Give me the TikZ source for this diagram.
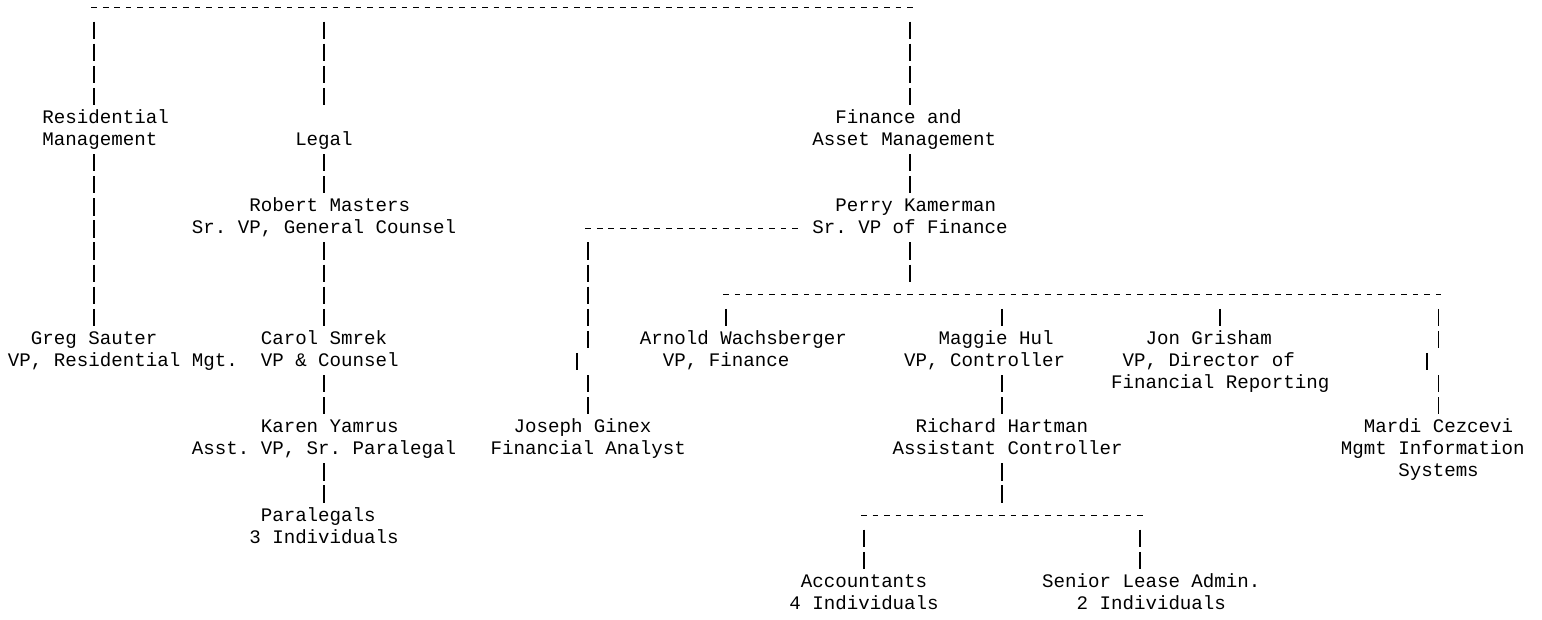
\documentclass[tikz,border=0pt]{standalone}
\usepackage{fontspec}
\newfontfamily\chartmono{Liberation Mono}
\tikzset{
  lbl/.style={font=\chartmono\fontsize{19.15pt}{22pt}\selectfont\frenchspacing,
              inner sep=0pt, outer sep=0pt, anchor=base west, text=black},
  hdash/.style={line width=1.5pt, dash pattern=on 5.6pt off 5.89pt, black},
  vpipe/.style={line width=1.7pt, dash pattern=on 17.2pt off 4.89pt, black}
}
% horizontal run of hyphens: name, first col, last col, line
\newcommand\hrun[4]{%
  \coordinate (#1a) at (#2+.26,#4-.2535);
  \coordinate (#1b) at (#3+.748,#4-.2535);
  \draw[hdash] (#1a) -- (#1b);}
% vertical run of bars: name, col, first line, last line
\newcommand\vrun[4]{%
  \coordinate (#1a) at (#2+.5,#3-.611);
  \coordinate (#1b) at (#2+.5,#4+.1675);
  \draw[vpipe] (#1a) -- (#1b);}
\begin{document}
\begin{tikzpicture}
\path[use as bounding box] (0pt,0pt) rectangle (1542pt,-619pt);
\begin{scope}[shift={(8pt,-13pt)}, x=11.49pt, y=-22.09pt]
% ---------- labels ----------
\node[lbl] (res1) at (3,5) {Residential};
\node[lbl] (res2) at (3,6) {Management};
\node[lbl] (legal) at (25,6) {Legal};
\node[lbl] (fin1) at (72,5) {Finance and};
\node[lbl] (fin2) at (70,6) {Asset Management};
\node[lbl] (rm1) at (21,9) {Robert Masters};
\node[lbl] (rm2) at (16,10) {Sr. VP, General Counsel};
\node[lbl] (pk1) at (72,9) {Perry Kamerman};
\node[lbl] (pk2) at (70,10) {Sr. VP of Finance};
\node[lbl] (gs1) at (2,15) {Greg Sauter};
\node[lbl] (gs2) at (0,16) {VP, Residential Mgt.};
\node[lbl] (cs1) at (22,15) {Carol Smrek};
\node[lbl] (cs2) at (22,16) {VP \& Counsel};
\node[lbl] (aw1) at (55,15) {Arnold Wachsberger};
\node[lbl] (aw2) at (57,16) {VP, Finance};
\node[lbl] (mh1) at (81,15) {Maggie Hul};
\node[lbl] (mh2) at (78,16) {VP, Controller};
\node[lbl] (jn1) at (99,15) {Jon Grisham};
\node[lbl] (jn2) at (97,16) {VP, Director of};
\node[lbl] (jn3) at (96,17) {Financial Reporting};
\node[lbl] (ky1) at (22,19) {Karen Yamrus};
\node[lbl] (ky2) at (16,20) {Asst. VP, Sr. Paralegal};
\node[lbl] (jg1) at (44,19) {Joseph Ginex};
\node[lbl] (jg2) at (42,20) {Financial Analyst};
\node[lbl] (rh1) at (79,19) {Richard Hartman};
\node[lbl] (rh2) at (77,20) {Assistant Controller};
\node[lbl] (mc1) at (118,19) {Mardi Cezcevi};
\node[lbl] (mc2) at (116,20) {Mgmt Information};
\node[lbl] (mc3) at (121,21) {Systems};
\node[lbl] (pl1) at (22,23) {Paralegals};
\node[lbl] (pl2) at (21,24) {3 Individuals};
\node[lbl] (ac1) at (69,26) {Accountants};
\node[lbl] (ac2) at (68,27) {4 Individuals};
\node[lbl] (sl1) at (90,26) {Senior Lease Admin.};
\node[lbl] (sl2) at (93,27) {2 Individuals};
% ---------- horizontal bars ----------
\hrun{top}{7}{78}{0}
\hrun{pkl}{50}{68}{10}
\hrun{pkr}{62}{124}{13}
\hrun{rhb}{74}{98}{23}
% ---------- vertical bars ----------
\vrun{ra}{7}{1}{4}
\vrun{rb}{7}{7}{14}
\vrun{la}{27}{1}{4}
\vrun{lb}{27}{7}{8}
\vrun{lc}{27}{11}{14}
\vrun{ld}{27}{17}{18}
\vrun{le}{27}{21}{22}
\vrun{fa}{78}{1}{4}
\vrun{fb}{78}{7}{8}
\vrun{fc}{78}{11}{12}
\vrun{ja}{50}{11}{15}
\vrun{jb}{49}{16}{16}
\vrun{jc}{50}{17}{18}
\vrun{aa}{62}{14}{14}
\vrun{ma}{86}{14}{14}
\vrun{mb}{86}{17}{18}
\vrun{mc}{86}{21}{22}
\vrun{ga}{105}{14}{14}
\vrun{za}{124}{14}{15}
\vrun{zb}{123}{16}{16}
\vrun{zc}{124}{17}{18}
\vrun{aca}{74}{24}{25}
\vrun{sla}{98}{24}{25}
\end{scope}
\end{tikzpicture}
\end{document}
